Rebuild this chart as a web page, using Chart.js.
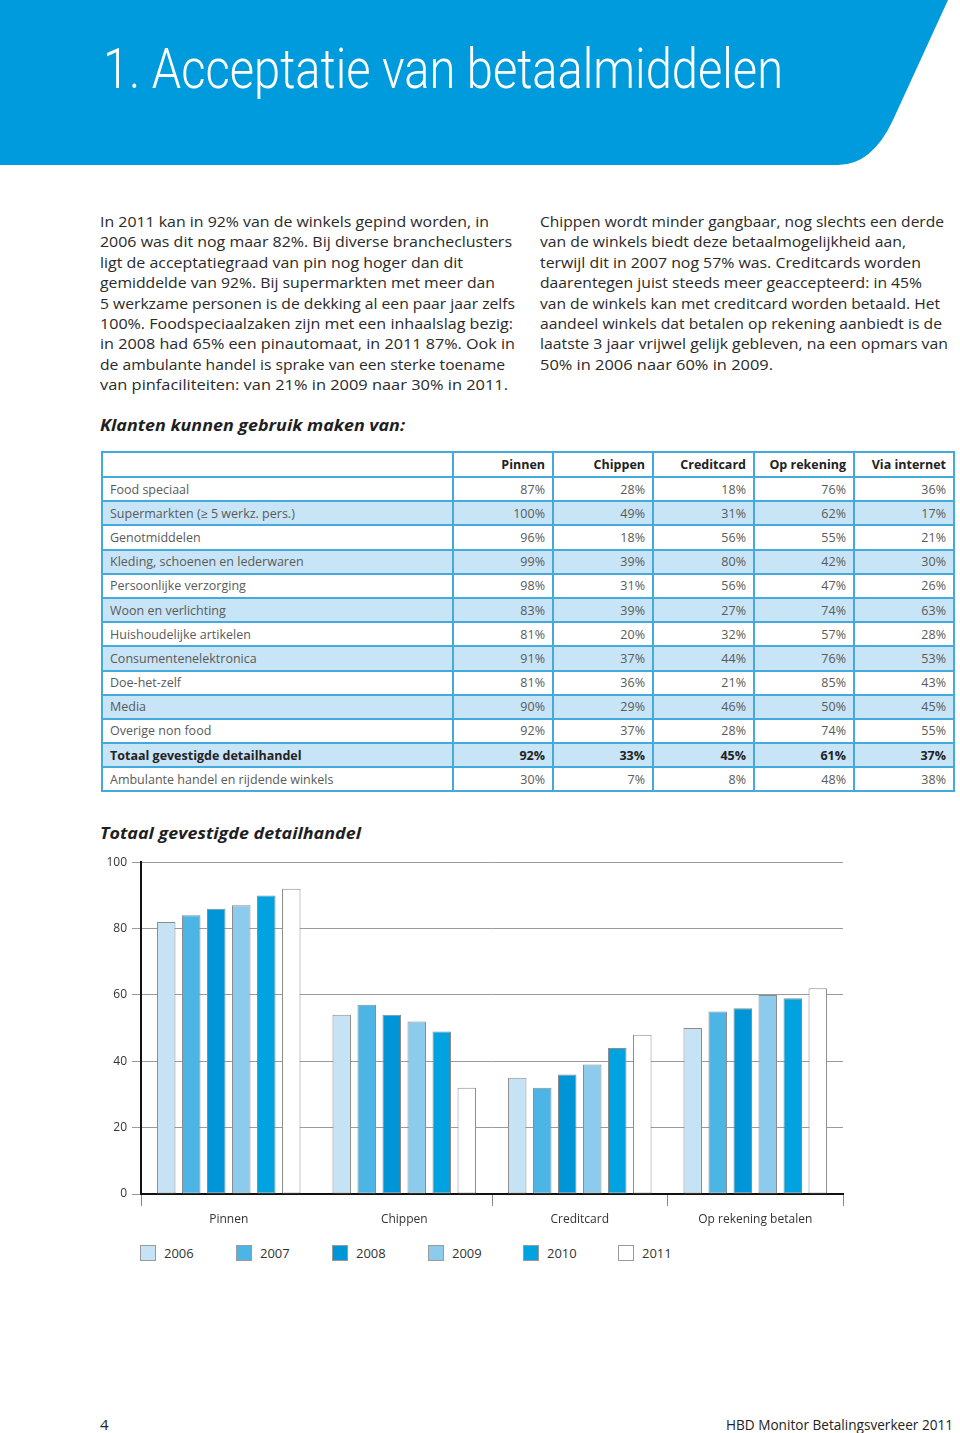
<!DOCTYPE html>
<html lang="nl">
<head>
<meta charset="utf-8">
<title>Acceptatie van betaalmiddelen</title>
<script src="https://cdn.jsdelivr.net/npm/chart.js@4.4.0/dist/chart.umd.min.js"></script>
<style>
  body { margin: 0; width: 960px; height: 1433px; position: relative; overflow: hidden; background: #fff;
         font-family: "Open Sans", "Noto Sans", sans-serif; color: #2a2a2a; }
  .abs { position: absolute; white-space: nowrap; }
  .fit { transform-origin: 0 0; display: inline-block; }
  #title { left: 103px; top: 41px; font-family: Roboto, "Open Sans", sans-serif; font-weight: 300;
           font-size: 56px; line-height: 56px; color: #fff; }
  .col { font-size: 14.5px; line-height: 20.4px; }
  .col div { height: 20.4px; }
  .kop { font-weight: 700; font-style: italic; font-size: 16px; color: #1f1f1f; }
  #tabel { position: absolute; left: 101px; top: 451px; border-collapse: collapse; table-layout: fixed; }
  #tabel td, #tabel th { border: 2px solid #44a9dc; padding: 0 7px; font-size: 12.5px; color: #5a5a5a;
           text-align: right; height: 22.2px; box-sizing: border-box; }
  #tabel tr { height: 24.2px; }
  #tabel tr:first-child { height: 25px; }
  #tabel th { font-weight: 700; color: #222; }
  #tabel td:first-child { text-align: left; }
  #tabel tr.alt td { background: #c8e4f7; }
  #tabel tr.tot td { font-weight: 700; color: #222; }
  #chartBox { position: absolute; left: 100px; top: 850px; width: 760px; height: 385px; }
  .leg { position: absolute; top: 1245px; font-size: 13px; color: #333; line-height: 16px; }
  .leg i { display: inline-block; width: 14px; height: 14px; border: 1px solid #9a9a9a; vertical-align: top; margin-right: 8px; }
</style>
</head>
<body>

<svg class="abs" style="left:0;top:0" width="960" height="166">
  <path d="M0 0 H948 L893 120 Q872 165 838 165 H0 Z" fill="#009bdc"/>
</svg>
<div id="title" class="abs"><span class="fit" data-w="680">1. Acceptatie van betaalmiddelen</span></div>

<div class="abs col" style="left:100px;top:212px">
  <div><span class="fit" data-w="389">In 2011 kan in 92% van de winkels gepind worden, in</span></div>
  <div><span class="fit" data-w="412">2006 was dit nog maar 82%. Bij diverse brancheclusters</span></div>
  <div><span class="fit" data-w="363">ligt de acceptatiegraad van pin nog hoger dan dit</span></div>
  <div><span class="fit" data-w="395">gemiddelde van 92%. Bij supermarkten met meer dan</span></div>
  <div><span class="fit" data-w="415">5 werkzame personen is de dekking al een paar jaar zelfs</span></div>
  <div><span class="fit" data-w="413">100%. Foodspeciaalzaken zijn met een inhaalslag bezig:</span></div>
  <div><span class="fit" data-w="415">in 2008 had 65% een pinautomaat, in 2011 87%. Ook in</span></div>
  <div><span class="fit" data-w="405">de ambulante handel is sprake van een sterke toename</span></div>
  <div><span class="fit" data-w="408">van pinfaciliteiten: van 21% in 2009 naar 30% in 2011.</span></div>
</div>

<div class="abs col" style="left:540px;top:212px">
  <div><span class="fit" data-w="404">Chippen wordt minder gangbaar, nog slechts een derde</span></div>
  <div><span class="fit" data-w="366">van de winkels biedt deze betaalmogelijkheid aan,</span></div>
  <div><span class="fit" data-w="381">terwijl dit in 2007 nog 57% was. Creditcards worden</span></div>
  <div><span class="fit" data-w="382">daarentegen juist steeds meer geaccepteerd: in 45%</span></div>
  <div><span class="fit" data-w="400">van de winkels kan met creditcard worden betaald. Het</span></div>
  <div><span class="fit" data-w="402">aandeel winkels dat betalen op rekening aanbiedt is de</span></div>
  <div><span class="fit" data-w="408">laatste 3 jaar vrijwel gelijk gebleven, na een opmars van</span></div>
  <div><span class="fit" data-w="233">50% in 2006 naar 60% in 2009.</span></div>
</div>

<div class="abs kop" style="left:100px;top:414px"><span class="fit" data-w="305">Klanten kunnen gebruik maken van:</span></div>

<table id="tabel"></table>

<div class="abs kop" style="left:100px;top:822px"><span class="fit" data-w="261">Totaal gevestigde detailhandel</span></div>

<div id="chartBox"><canvas id="barChart"></canvas></div>
<div id="legenda"></div>

<div class="abs" style="left:100px;top:1414px;font-size:15px;color:#222">4</div>
<div class="abs" style="left:726px;top:1414px;font-size:15px;color:#222"><span class="fit" data-w="227">HBD Monitor Betalingsverkeer 2011</span></div>

<script>
// tabel: winkels die betaalmiddel accepteren (%)
const tableHeads = ['', 'Pinnen', 'Chippen', 'Creditcard', 'Op rekening', 'Via internet'];
const rowLabels = ['Food speciaal', 'Supermarkten (\u2265 5 werkz. pers.)', 'Genotmiddelen',
  'Kleding, schoenen en lederwaren', 'Persoonlijke verzorging', 'Woon en verlichting',
  'Huishoudelijke artikelen', 'Consumentenelektronica', 'Doe-het-zelf', 'Media',
  'Overige non food', 'Totaal gevestigde detailhandel', 'Ambulante handel en rijdende winkels'];
const pinnen      = [87, 100, 96, 99, 98, 83, 81, 91, 81, 90, 92, 92, 30];
const chippen     = [28, 49, 18, 39, 31, 39, 20, 37, 36, 29, 37, 33, 7];
const creditcard  = [18, 31, 56, 80, 56, 27, 32, 44, 21, 46, 28, 45, 8];
const opRekening  = [76, 62, 55, 42, 47, 74, 57, 76, 85, 50, 74, 61, 48];
const viaInternet = [36, 17, 21, 30, 26, 63, 28, 53, 43, 45, 55, 37, 38];

// grafiek: totaal gevestigde detailhandel per jaar
const categories = ['Pinnen', 'Chippen', 'Creditcard', 'Op rekening betalen'];
const years = ['2006', '2007', '2008', '2009', '2010', '2011'];
const v2006 = [82, 54, 35, 50];
const v2007 = [84, 57, 32, 55];
const v2008 = [86, 54, 36, 56];
const v2009 = [87, 52, 39, 60];
const v2010 = [90, 49, 44, 59];
const v2011 = [92, 32, 48, 62];
const yTicks = [0, 20, 40, 60, 80, 100];

const yearColors = ['#c6e3f6', '#4db5e6', '#0095d6', '#8dcbec', '#00a3df', '#ffffff'];

function buildTable() {
    const t = document.getElementById('tabel');
    const widths = [351, 100, 100, 101, 100, 100];
    let html = '<colgroup>' + widths.map(w => `<col style="width:${w}px">`).join('') + '</colgroup>';
    html += '<tr>' + tableHeads.map(h => `<th>${h}</th>`).join('') + '</tr>';
    const cols = [pinnen, chippen, creditcard, opRekening, viaInternet];
    rowLabels.forEach((lab, i) => {
        let cls = i % 2 === 1 ? 'alt' : '';
        if (i === 11) cls += ' tot';
        html += `<tr class="${cls}"><td>${lab}</td>` + cols.map(c => `<td>${c[i]}%</td>`).join('') + '</tr>';
    });
    t.innerHTML = html;
    t.style.width = widths.reduce((a, b) => a + b, 0) + 'px';
}

function buildLegend() {
    const lx = [140, 236, 332, 428, 523, 618];
    const box = document.getElementById('legenda');
    years.forEach((y, i) => {
        const d = document.createElement('div');
        d.className = 'leg';
        d.style.left = lx[i] + 'px';
        d.innerHTML = `<i style="background:${yearColors[i]}"></i>${y}`;
        box.appendChild(d);
    });
}

function fitText() {
    document.querySelectorAll('.fit').forEach(el => {
        const w = el.getBoundingClientRect().width;
        const target = parseFloat(el.dataset.w);
        if (w > 0) el.style.transform = `scaleX(${target / w})`;
    });
}

function initChart() {
    const series = [v2006, v2007, v2008, v2009, v2010, v2011];
    const ctx = document.getElementById('barChart').getContext('2d');
    new Chart(ctx, {
        type: 'bar',
        data: {
            labels: categories,
            datasets: years.map((y, i) => ({
                label: y,
                data: series[i],
                backgroundColor: yearColors[i],
                borderColor: '#8c8c8c',
                borderWidth: 1,
                borderSkipped: false,
                barPercentage: 0.74,
                categoryPercentage: 0.855
            }))
        },
        options: {
            responsive: true,
            maintainAspectRatio: false,
            animation: false,
            layout: { padding: { top: 12, right: 17, left: 0, bottom: 0 } },
            plugins: { legend: { display: false }, tooltip: { enabled: false } },
            scales: {
                x: {
                    grid: {
                        offset: true,
                        drawOnChartArea: true,
                        color: c => c.index === 4 ? '#9a9a9a' : 'rgba(0,0,0,0)',
                        tickColor: c => c.index === 1 ? 'rgba(0,0,0,0)' : '#8a8a8a',
                        tickLength: 12
                    },
                    border: { color: '#111', width: 2 },
                    ticks: { color: '#333', font: { family: 'Open Sans', size: 12 }, padding: 6, maxRotation: 0 },
                    afterFit: s => { s.height = 41; }
                },
                y: {
                    min: 0, max: 100,
                    afterBuildTicks: s => { s.ticks = yTicks.map(v => ({ value: v })); },
                    grid: { color: '#9a9a9a', tickLength: 9 },
                    border: { color: '#111', width: 2 },
                    ticks: { color: '#333', font: { family: 'Open Sans', size: 12 }, padding: 5 },
                    afterFit: s => { s.width = 41; }
                }
            }
        }
    });
}

buildTable();
buildLegend();
fitText();
initChart();
</script>
</body>
</html>
